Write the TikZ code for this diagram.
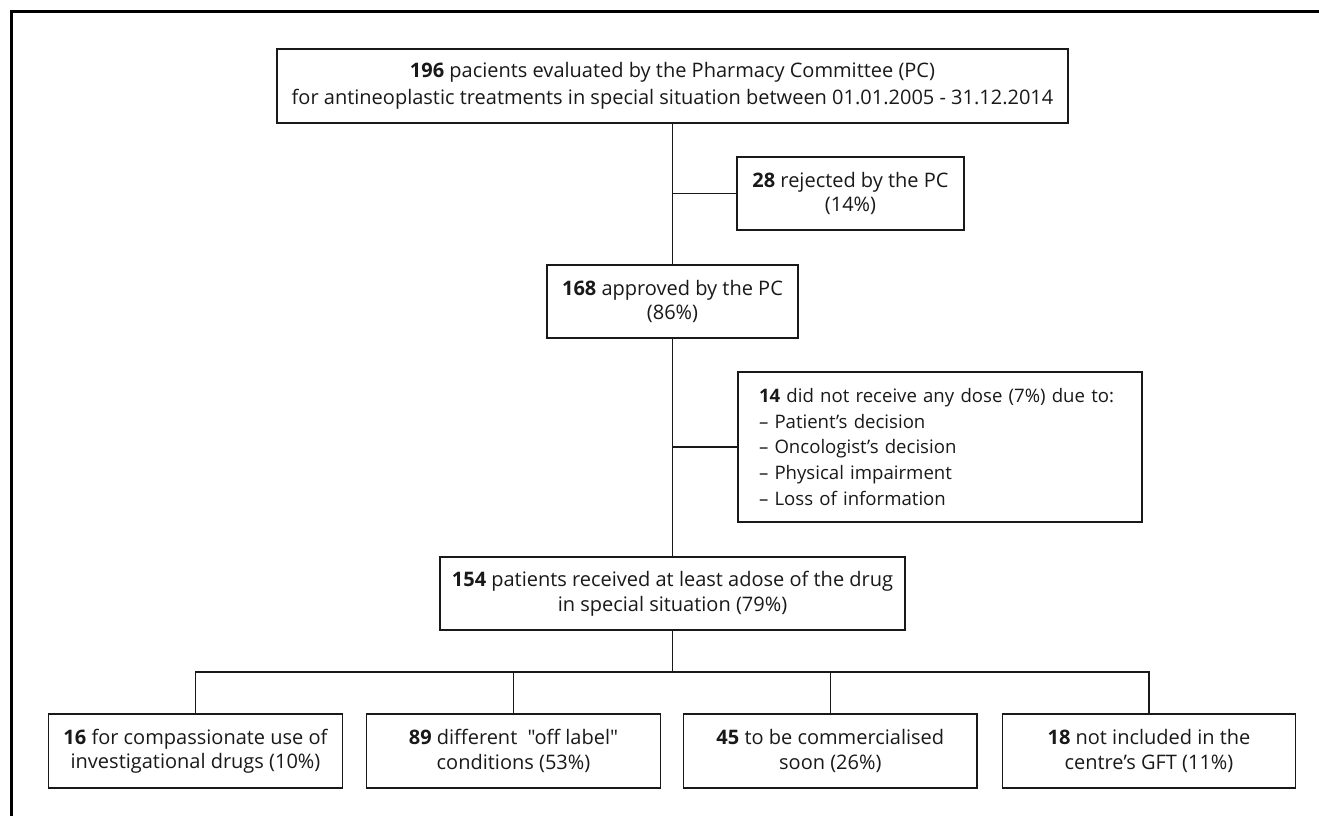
\documentclass[tikz,border=0pt]{standalone}
\usepackage{fontspec}
\setmainfont{Open Sans}[Ligatures=TeXOff]
\begin{document}
\begin{tikzpicture}[x=1pt,y=-1pt,
  box/.style={draw=black!90, line width=1.4pt, fill=white, align=center, inner sep=0pt,
    font=\fontsize{20}{24.5}\selectfont, text=black!90},
  conn/.style={draw=black!90, line width=1.2pt}]
\useasboundingbox (0,0) rectangle (1319,816);
\draw[line width=3pt] (11.5,816) -- (11.5,12) -- (1319,12);

\node[box, minimum width=791pt, minimum height=74pt, font=\fontsize{20}{26.7}\selectfont] (top) at (672.5,86)
  {\textbf{196} pacients evaluated by the Pharmacy Committee (PC)\\for antineoplastic treatments in special situation between 01.01.2005 - 31.12.2014};
\node[box, minimum width=227pt, minimum height=73pt] (rej) at (850.5,193.5)
  {\textbf{28} rejected by the PC\\(14\%)};
\node[box, minimum width=251pt, minimum height=73pt] (appr) at (672.5,301.5)
  {\textbf{168} approved by the PC\\(86\%)};
\node[box, minimum width=404pt, minimum height=150pt, align=left, text width=362pt,
  font=\fontsize{18.6}{25.7}\selectfont] (nodose) at (940,447)
  {\textbf{14} did not receive any dose (7\%) due to:\\– Patient’s decision\\– Oncologist’s decision\\– Physical impairment\\– Loss of information};
\node[box, minimum width=465pt, minimum height=73pt] (recv) at (672.5,593.5)
  {\textbf{154} patients received at least adose of the drug\\in special situation (79\%)};
\node[box, minimum width=293.5pt, minimum height=74pt] (b1) at (195.5,751)
  {\textbf{16} for compassionate use of\\investigational drugs (10\%)};
\node[box, minimum width=293.5pt, minimum height=74pt] (b2) at (513.5,751)
  {\textbf{89} different ~"off label"\\conditions (53\%)};
\node[box, minimum width=293.5pt, minimum height=74pt] (b3) at (830.3,751)
  {\textbf{45} to be commercialised\\soon (26\%)};
\node[box, minimum width=293.5pt, minimum height=74pt] (b4) at (1149,751)
  {\textbf{18} not included in the\\centre’s GFT (11\%)};

\coordinate (j1) at (672.5,193.5);
\coordinate (j2) at (672.5,447);
\coordinate (br) at (672.5,672);
\draw[conn] (top.south) -- (appr.north);
\draw[conn] (appr.south) -- (recv.north);
\draw[conn] (j1) -- (rej.west);
\draw[conn] (j2) -- (nodose.west);
\draw[conn] (recv.south) -- (br);
\draw[conn] (b1.north) |- (br);
\draw[conn] (b4.north) |- (br);
\draw[conn] (b2.north) -- (b2.north |- br);
\draw[conn] (b3.north) -- (b3.north |- br);
\end{tikzpicture}
\end{document}
